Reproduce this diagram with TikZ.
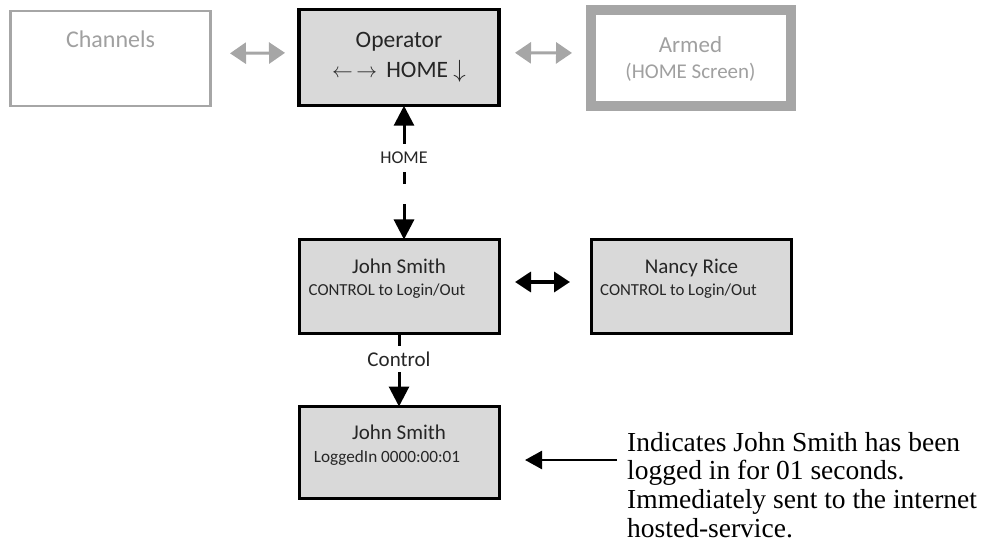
\documentclass[tikz,border=0pt]{standalone}
\usepackage{fontspec}
\setmainfont{Carlito}
\newfontfamily\notefont{Liberation Serif}
\usetikzlibrary{arrows.meta}
\usetikzlibrary{positioning}

\definecolor{boxgray}{RGB}{217,217,217}
\definecolor{linegray}{RGB}{166,166,166}
\definecolor{txtgray}{RGB}{160,160,160}
\definecolor{ink}{RGB}{38,38,38}

% box text: height, gap above first line, lines
\newcommand{\boxtext}[3]{\parbox[c][#1][t]{200pt}{\centering\vspace*{#2}#3}}

\begin{document}
\begin{tikzpicture}[x=1pt,y=1pt,
		panel/.style={draw=black, line width=3pt, fill=boxgray, inner sep=0pt, outer sep=0pt, text=ink},
		ghost/.style={draw=linegray, line width=2.5pt, fill=white, inner sep=0pt, outer sep=0pt, text=txtgray},
		tag/.style={fill=white, inner xsep=2pt, text=ink},
		grayboth/.style={{Triangle[length=16pt,width=21pt]}-{Triangle[length=16pt,width=21pt]}, draw=linegray, line width=3pt},
		blackboth/.style={{Triangle[length=16pt,width=20pt]}-{Triangle[length=16pt,width=20pt]}, draw=black, line width=3.5pt},
		bigtip/.style={line width=3pt, -{Triangle[length=20pt,width=20pt]}}]
					
					\useasboundingbox (0,0) rectangle (993,-553);
					
					% top row
					\node[ghost] (ch) at (110.5,-58.5) {\boxtext{95pt}{20pt}{\fontsize{24}{28}\selectfont Channels}};
					\node[panel, line width=3.5pt] (op) at (399,-57.75) {\boxtext{96pt}{22.7pt}{\fontsize{23.5}{30}\selectfont Operator\\ {\fontsize{21}{20}\selectfont$\leftarrow\,\rightarrow$}\ \,HOME $\downarrow$}};
					\node[ghost, line width=10pt] (arm) at (690.5,-58) {\boxtext{96pt}{26.5pt}{\fontsize{23}{26.4}\selectfont Armed\\ \fontsize{21}{26.4}\selectfont (HOME Screen)}};
					
					% users
					\node[panel] (js) at (399,-286.5) {\boxtext{94pt}{19.8pt}{\fontsize{21}{21.6}\selectfont John Smith\\ \fontsize{16.8}{21.6}\selectfont CONTROL to Login/Out\hspace*{24pt}}};
					\node[panel] (nr) at (691.5,-286.5) {\boxtext{94pt}{19.8pt}{\fontsize{21}{21.6}\selectfont Nancy Rice\\ \fontsize{16.8}{21.6}\selectfont CONTROL to Login/Out\hspace*{26pt}}};
					\node[panel] (lg) at (399,-452.5) {\boxtext{92pt}{18.8pt}{\fontsize{21}{22.7}\selectfont John Smith\\ \fontsize{17.2}{22.7}\selectfont LoggedIn 0000:00:01\hspace*{24pt}}};
					
					\node[anchor=north west, align=left, inner sep=0pt, font=\notefont\fontsize{27.5}{28.7}\selectfont] (note) at (627,-432) {Indicates John Smith has been\\ logged in for 01 seconds.\\ Immediately sent to the internet\\ hosted-service.};
					\coordinate (tip) at (525,-460);
					
					% arrows
					\draw[grayboth, shorten <=19.5pt, shorten >=14pt] ([yshift=5pt]ch.east) -- ([yshift=5pt]op.west);
					\draw[grayboth, shorten <=16pt, shorten >=18.5pt] ([yshift=5pt]op.east) -- ([yshift=5pt]arm.west);
					\draw[blackboth, shorten <=16pt, shorten >=21.5pt] ([yshift=4.5pt]js.east) -- ([yshift=4.5pt]nr.west);
					
					\draw[line width=3pt, {Triangle[length=20pt,width=20pt]}-{Triangle[length=20pt,width=20pt]}, dash pattern=on 16pt off 20pt on 200pt off 1pt] ([xshift=5pt]js.north) -- ([xshift=5pt]op.south) node[tag, pos=0.61, inner ysep=8pt, font=\fontsize{18}{20}\selectfont] {HOME};
					\draw[bigtip] (js.south) -- (lg.north) node[tag, pos=0.35, inner ysep=6pt, font=\fontsize{21}{24}\selectfont] {Control};
					\draw[line width=2.5pt, -{Triangle[length=17pt,width=18pt]}, shorten <=10pt] (note.west |- tip) -- (tip);
			\end{tikzpicture}
\end{document}
